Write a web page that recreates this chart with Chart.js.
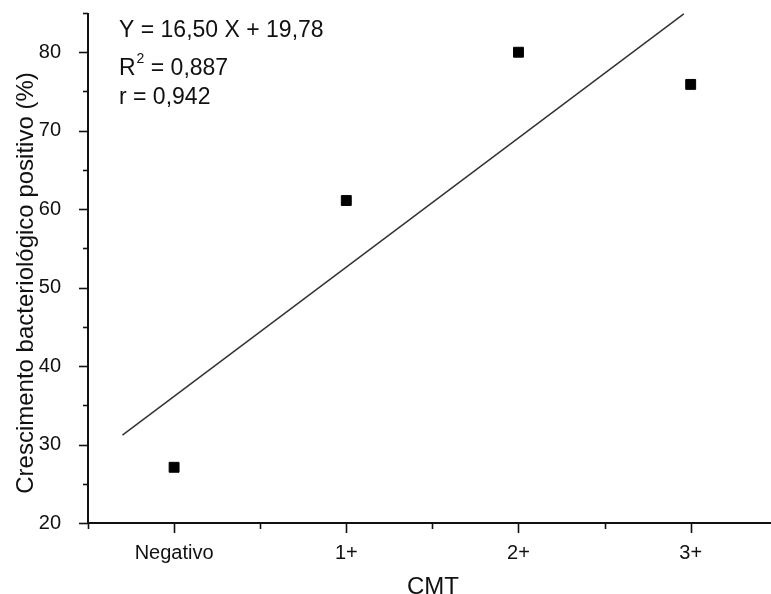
<!DOCTYPE html>
<html>
<head>
<meta charset="utf-8">
<script src="https://cdn.jsdelivr.net/npm/chart.js@4.4.1/dist/chart.umd.min.js"></script>
<style>
  html, body { margin: 0; padding: 0; background: #fff; overflow: hidden; }
  canvas { display: block; }
</style>
</head>
<body>
<canvas id="cmtChart" width="771" height="594"></canvas>
<script>
// CMT categories and the position each one sits at on the x axis
const categories = ['Negativo', '1+', '2+', '3+'];
const cmtPositions = [1, 2, 3, 4];
// positive bacteriological growth (%)
const growthPct = [27.1, 61.1, 80.0, 75.9];
// end points of the fitted line as drawn in the figure
const fitX = [0.70, 3.96];
const fitY = [31.2, 84.9];
// axis ranges
const xRange = [0.5, 4.42];
const yRange = [20, 85];

const FONT = '"Liberation Sans", Arial, sans-serif';
const INK = '#111';

// draws axis lines with long (major) and short (minor) ticks, the axis titles
// and the regression text
const axesPlugin = {
  id: 'axesPlugin',
  afterDraw(chart) {
    const ctx = chart.ctx;
    const area = chart.chartArea;
    const xs = chart.scales.x;
    const ys = chart.scales.y;
    ctx.save();
    ctx.strokeStyle = INK;
    ctx.lineWidth = 2;
    ctx.beginPath();
    ctx.moveTo(area.left, area.top);
    ctx.lineTo(area.left, area.bottom);
    ctx.lineTo(chart.width, area.bottom);
    ctx.stroke();

    ctx.lineWidth = 1.6;
    ys.ticks.forEach(t => {
      if (Math.abs(t.value / 5 - Math.round(t.value / 5)) > 1e-6) return;
      const y = Math.round(ys.getPixelForValue(t.value)) + 0.5;
      const len = t.value % 10 === 0 ? 9 : 5;
      ctx.beginPath();
      ctx.moveTo(area.left - len, y);
      ctx.lineTo(area.left, y);
      ctx.stroke();
    });
    xs.ticks.forEach(t => {
      if (Math.abs(t.value * 2 - Math.round(t.value * 2)) > 1e-6) return;
      const x = Math.round(xs.getPixelForValue(t.value)) + 0.5;
      const len = Number.isInteger(t.value) ? 10 : 6;
      ctx.beginPath();
      ctx.moveTo(x, area.bottom);
      ctx.lineTo(x, area.bottom + len);
      ctx.stroke();
    });

    // axis titles
    ctx.fillStyle = INK;
    ctx.font = '24px ' + FONT;
    ctx.textAlign = 'center';
    ctx.textBaseline = 'alphabetic';
    ctx.fillText('CMT', 433, 594);
    ctx.save();
    ctx.translate(33, 283);
    ctx.rotate(-Math.PI / 2);
    ctx.fillText('Crescimento bacteriológico positivo (%)', 0, 0);
    ctx.restore();

    // regression equation
    ctx.textAlign = 'left';
    ctx.font = '23px ' + FONT;
    ctx.fillText('Y = 16,50 X + 19,78', 119, 37);
    ctx.fillText('R', 119, 75);
    let w = ctx.measureText('R').width;
    ctx.font = '14px ' + FONT;
    ctx.fillText('2', 119 + w + 1, 63);
    const w2 = ctx.measureText('2').width;
    ctx.font = '23px ' + FONT;
    ctx.fillText(' = 0,887', 119 + w + w2 + 1, 75);
    ctx.fillText('r = 0,942', 119, 104);
    ctx.restore();
  }
};

const points = cmtPositions.map((x, i) => ({ x: x, y: growthPct[i] }));
const fitLine = fitX.map((x, i) => ({ x: x, y: fitY[i] }));

new Chart(document.getElementById('cmtChart'), {
  type: 'scatter',
  data: {
    datasets: [
      {
        label: 'Crescimento',
        data: points,
        pointStyle: 'rect',
        pointRadius: 7,
        backgroundColor: '#000',
        borderColor: '#000',
        borderWidth: 1
      },
      {
        label: 'Ajuste linear',
        data: fitLine,
        showLine: true,
        pointRadius: 0,
        borderColor: '#333',
        borderWidth: 1.5
      }
    ]
  },
  options: {
    responsive: false,
    animation: false,
    devicePixelRatio: 1,
    layout: { padding: { top: 13, right: 0, left: 0, bottom: 0 } },
    plugins: {
      legend: { display: false },
      tooltip: { enabled: false }
    },
    scales: {
      x: {
        type: 'linear',
        min: xRange[0],
        max: xRange[1],
        border: { display: false },
        grid: { display: false },
        ticks: {
          stepSize: 0.5,
          autoSkip: false,
          maxRotation: 0,
          padding: 10,
          color: INK,
          font: { family: FONT, size: 20 },
          callback: v => Number.isInteger(v) ? (categories[cmtPositions.indexOf(v)] || '') : ''
        },
        afterFit: s => {
          s.height = 71;
          s.paddingLeft = 0;
          s.paddingRight = 0;
        }
      },
      y: {
        min: yRange[0],
        max: yRange[1],
        border: { display: false },
        grid: { display: false },
        ticks: {
          stepSize: 5,
          autoSkip: false,
          padding: 19,
          color: INK,
          font: { family: FONT, size: 20 },
          callback: v => v % 10 === 0 ? v : ''
        },
        afterFit: s => {
          s.width = 88;
          s.paddingTop = 0;
          s.paddingBottom = 0;
        }
      }
    }
  },
  plugins: [axesPlugin]
});
</script>
</body>
</html>
